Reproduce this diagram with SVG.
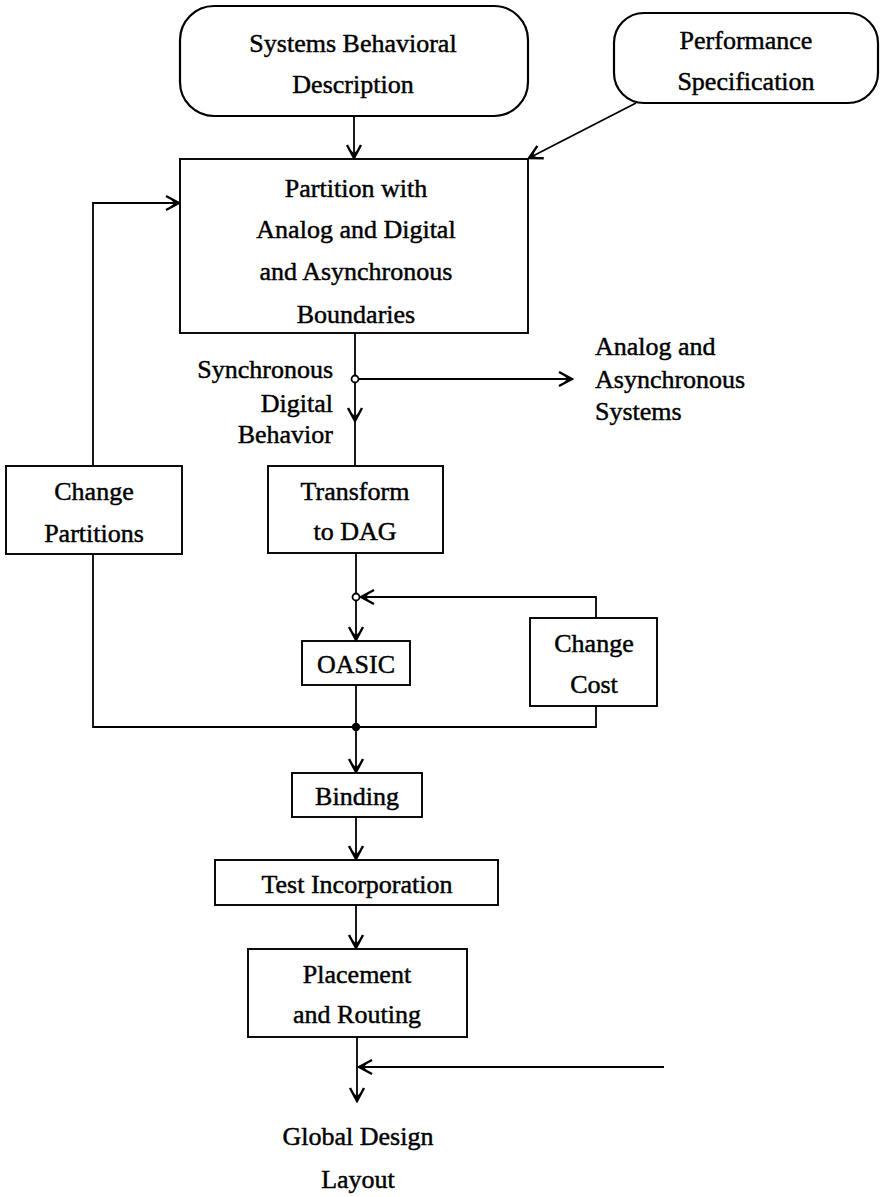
<svg xmlns="http://www.w3.org/2000/svg" width="882" height="1197" viewBox="0 0 882 1197">
  <style>
    .box { fill: #ffffff; stroke: #000000; stroke-width: 1.9; }
    .term { fill: #ffffff; stroke: #000000; stroke-width: 2.2; }
    .lbl { font-family: "Liberation Serif", "Times New Roman", serif; font-size: 26px; fill: #000000; stroke: #000000; stroke-width: 0.45; }
    .c { text-anchor: middle; }
    .r { text-anchor: end; }
    .wire { fill: none; stroke: #000000; stroke-width: 1.8; }
    .arr { marker-end: url(#head); }
  </style>
  <defs>
    <!-- barbed chevron head used on every directed connector -->
    <marker id="head" viewBox="-16 -9 18 18" markerWidth="18" markerHeight="18" refX="0" refY="0" orient="auto" markerUnits="userSpaceOnUse">
      <path d="M-13,-7 L0,0 L-13,7" fill="none" stroke="#000000" stroke-width="2.4" stroke-linejoin="miter"/>
      <path d="M-8,-3.5 L0,0 L-8,3.5 L-5,0 Z" fill="#000000"/>
    </marker>
  </defs>

  <!-- connectors -->
  <g id="connectors">
    <line class="wire arr" x1="354" y1="116" x2="354" y2="158"/>
    <line class="wire arr" x1="636" y1="103" x2="529" y2="158"/>
    <polyline class="wire arr" points="93,466 93,203 179,203"/>
    <line class="wire arr" x1="355" y1="333" x2="355" y2="421"/>
    <line class="wire" x1="355" y1="421" x2="355" y2="466"/>
    <line class="wire arr" x1="359" y1="379" x2="572" y2="379"/>
    <line class="wire arr" x1="356" y1="553" x2="356" y2="640"/>
    <polyline class="wire arr" points="596,618 596,597 361,597"/>
    <line class="wire arr" x1="356" y1="685" x2="356" y2="772"/>
    <polyline class="wire" points="93,554 93,727 596,727 596,706"/>
    <line class="wire arr" x1="356" y1="817" x2="356" y2="859"/>
    <line class="wire arr" x1="356" y1="905" x2="356" y2="948"/>
    <line class="wire arr" x1="357" y1="1037" x2="357" y2="1101"/>
    <line class="wire arr" x1="664" y1="1067" x2="359" y2="1067"/>
    <circle cx="355" cy="379" r="3.5" fill="#ffffff" stroke="#000000" stroke-width="1.8"/>
    <circle cx="356" cy="597" r="3.5" fill="#ffffff" stroke="#000000" stroke-width="1.8"/>
    <circle cx="356" cy="727" r="4.2" fill="#000000"/>
  </g>

  <g id="systems-behavioral-description">
    <rect class="term" x="180" y="6" width="348" height="110" rx="34" ry="34"/>
    <text class="lbl c" x="353" y="52">Systems Behavioral</text>
    <text class="lbl c" x="353" y="93">Description</text>
  </g>

  <g id="performance-specification">
    <rect class="term" x="614" y="13" width="264" height="90" rx="30" ry="30"/>
    <text class="lbl c" x="746" y="49">Performance</text>
    <text class="lbl c" x="746" y="90">Specification</text>
  </g>

  <g id="partition">
    <rect class="box" x="180" y="159" width="348" height="174"/>
    <text class="lbl c" x="356" y="197">Partition with</text>
    <text class="lbl c" x="356" y="238">Analog and Digital</text>
    <text class="lbl c" x="356" y="280">and Asynchronous</text>
    <text class="lbl c" x="356" y="323">Boundaries</text>
  </g>

  <g id="sync-label">
    <text class="lbl r" x="333" y="378">Synchronous</text>
    <text class="lbl r" x="333" y="412">Digital</text>
    <text class="lbl r" x="333" y="443">Behavior</text>
  </g>

  <g id="analog-async-systems">
    <text class="lbl" x="595" y="355">Analog and</text>
    <text class="lbl" x="595" y="388">Asynchronous</text>
    <text class="lbl" x="595" y="420">Systems</text>
  </g>

  <g id="change-partitions">
    <rect class="box" x="6" y="466" width="176" height="88"/>
    <text class="lbl c" x="94" y="500">Change</text>
    <text class="lbl c" x="94" y="542">Partitions</text>
  </g>

  <g id="transform-to-dag">
    <rect class="box" x="268" y="466" width="175" height="87"/>
    <text class="lbl c" x="355" y="500">Transform</text>
    <text class="lbl c" x="355" y="540">to DAG</text>
  </g>

  <g id="oasic">
    <rect class="box" x="302" y="641" width="108" height="44"/>
    <text class="lbl c" x="356" y="673">OASIC</text>
  </g>

  <g id="change-cost">
    <rect class="box" x="530" y="618" width="127" height="88"/>
    <text class="lbl c" x="594" y="652">Change</text>
    <text class="lbl c" x="594" y="693">Cost</text>
  </g>

  <g id="binding">
    <rect class="box" x="292" y="773" width="130" height="44"/>
    <text class="lbl c" x="357" y="805">Binding</text>
  </g>

  <g id="test-incorporation">
    <rect class="box" x="215" y="860" width="283" height="45"/>
    <text class="lbl c" x="357" y="893">Test Incorporation</text>
  </g>

  <g id="placement-routing">
    <rect class="box" x="248" y="949" width="219" height="88"/>
    <text class="lbl c" x="357" y="983">Placement</text>
    <text class="lbl c" x="357" y="1023">and Routing</text>
  </g>

  <g id="global-design-layout">
    <text class="lbl c" x="358" y="1145">Global Design</text>
    <text class="lbl c" x="358" y="1188">Layout</text>
  </g>
</svg>
